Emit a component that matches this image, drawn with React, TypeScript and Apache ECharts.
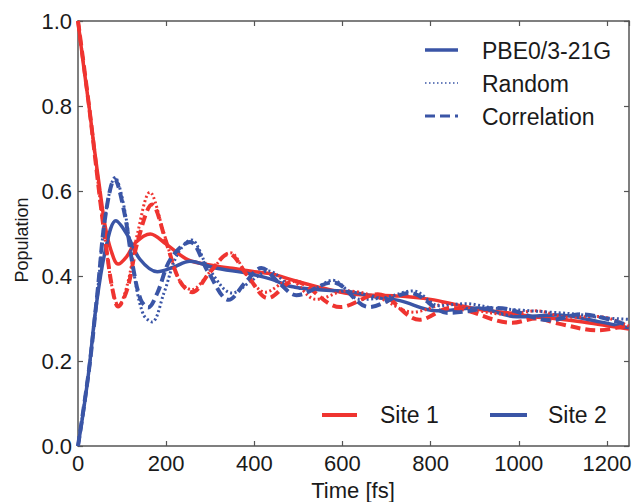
import React, { useEffect, useRef } from "react";
import * as echarts from "echarts";

// Time [fs] / population pairs
const site1Pbe: [number, number][] = [
  [0, 1.0], [12, 0.9], [25, 0.8], [37, 0.7], [50, 0.6], [62, 0.515], [75, 0.46], [91, 0.428],
  [110, 0.445], [130, 0.478], [164, 0.499], [200, 0.475], [250, 0.438], [306, 0.425], [350, 0.418],
  [400, 0.41], [440, 0.405], [488, 0.39], [542, 0.375], [617, 0.358], [669, 0.355], [730, 0.353],
  [800, 0.345], [860, 0.332], [919, 0.32], [980, 0.313], [1032, 0.304], [1080, 0.3], [1146, 0.292],
  [1200, 0.283], [1250, 0.275],
];
const site2Pbe: [number, number][] = [
  [0, 0], [12, 0.08], [25, 0.18], [40, 0.32], [62, 0.46], [86, 0.53], [110, 0.5], [140, 0.44],
  [180, 0.41], [215, 0.42], [254, 0.435], [306, 0.42], [390, 0.405], [440, 0.392], [481, 0.376],
  [540, 0.368], [617, 0.363], [678, 0.35], [730, 0.342], [814, 0.318], [905, 0.325], [995, 0.304],
  [1086, 0.308], [1184, 0.292], [1250, 0.278],
];
const site1Random: [number, number][] = [
  [0, 1.0], [25, 0.8], [50, 0.58], [65, 0.46], [78, 0.37], [92, 0.33], [112, 0.38], [135, 0.5],
  [163, 0.597], [195, 0.5], [230, 0.39], [258, 0.368], [300, 0.41], [345, 0.455], [385, 0.4],
  [425, 0.362], [480, 0.39], [540, 0.345], [610, 0.365], [680, 0.35], [760, 0.315], [840, 0.335],
  [900, 0.32], [970, 0.31], [1040, 0.318], [1110, 0.303], [1180, 0.305], [1250, 0.282],
];
const site2Random: [number, number][] = [
  [0, 0], [25, 0.18], [45, 0.37], [62, 0.54], [84, 0.632], [105, 0.56], [128, 0.4], [148, 0.31],
  [168, 0.292], [195, 0.36], [225, 0.45], [257, 0.485], [295, 0.42], [350, 0.36], [395, 0.39],
  [432, 0.412], [485, 0.375], [530, 0.37], [578, 0.39], [640, 0.345], [700, 0.35], [760, 0.365],
  [820, 0.33], [880, 0.335], [940, 0.325], [1000, 0.32], [1070, 0.315], [1130, 0.31],
  [1190, 0.302], [1250, 0.298],
];
const site1Corr: [number, number][] = [
  [0, 1.0], [25, 0.8], [50, 0.58], [65, 0.46], [78, 0.37], [91, 0.328], [112, 0.37], [135, 0.48],
  [168, 0.568], [200, 0.48], [230, 0.39], [259, 0.362], [300, 0.41], [342, 0.452], [385, 0.4],
  [431, 0.348], [490, 0.388], [595, 0.327], [680, 0.357], [775, 0.297], [845, 0.325], [985, 0.29],
  [1040, 0.3], [1090, 0.288], [1180, 0.272], [1250, 0.285],
];
const site2Corr: [number, number][] = [
  [0, 0], [25, 0.18], [45, 0.37], [62, 0.54], [83, 0.628], [105, 0.55], [125, 0.42], [142, 0.345],
  [159, 0.326], [180, 0.36], [210, 0.44], [254, 0.48], [295, 0.41], [342, 0.344], [380, 0.385],
  [416, 0.419], [455, 0.385], [495, 0.355], [578, 0.385], [660, 0.327], [753, 0.36], [840, 0.313],
  [950, 0.325], [1071, 0.296], [1140, 0.31], [1250, 0.283],
];

const methodLabels = ["PBE0/3-21G", "Random", "Correlation"];
const siteLabels = ["Site 1", "Site 2"];

const RED = "#ef3430";
const BLUE = "#3a55a6";
const AXIS = "#555555";
const FONT = "Liberation Sans, Arial, sans-serif";
const TEXT = "#1a1a1a";

const SOLID = { width: 3.5, type: "solid" as any };
const DOTTED = { width: 3, type: [2, 2.5] as any };
const DASHED = { width: 4, type: [10, 5] as any };

export default function App() {
  const ref = useRef<HTMLDivElement>(null);
  useEffect(() => {
    if (!ref.current) return;
    const chart = echarts.init(ref.current, undefined, { renderer: "svg" });
    const mkSeries = (name: string, data: [number, number][], color: string, style: any) => ({
      name,
      type: "line",
      data,
      showSymbol: false,
      smooth: 0.35,
      lineStyle: { color, ...style, cap: "butt" },
      itemStyle: { color },
      xAxisIndex: 0,
      yAxisIndex: 0,
      silent: true,
    });
    const axisCommon = {
      axisLine: { show: true, onZero: false, lineStyle: { color: AXIS, width: 1.5 } },
      axisTick: { show: true, inside: true, length: 5, lineStyle: { color: AXIS, width: 1.2 } },
      splitLine: { show: false },
    };
    const legendLine = (x1: number, x2: number, y: number, color: string, style: any) => ({
      type: "line",
      shape: { x1, y1: y, x2, y2: y },
      style: { stroke: color, lineWidth: style.width, lineDash: Array.isArray(style.type) ? style.type : null },
    });
    const legendText = (x: number, y: number, text: string) => ({
      type: "text",
      x,
      y,
      style: { text, fill: TEXT, font: `23px ${FONT}`, textVerticalAlign: "middle", verticalAlign: "middle" },
    });
    chart.setOption({
      animation: false,
      backgroundColor: "#ffffff",
      grid: { left: 78, top: 21, width: 551, height: 425, containLabel: false },
      xAxis: [
        {
          type: "value",
          min: 0,
          max: 1250,
          interval: 200,
          position: "bottom",
          ...axisCommon,
          axisLabel: { show: true, fontSize: 22, fontFamily: FONT, color: TEXT, margin: 6, showMaxLabel: false,
            formatter: (v: number) => (v % 200 === 0 ? String(v) : "") },
        },
        {
          type: "value",
          min: 0,
          max: 1250,
          interval: 200,
          position: "top",
          ...axisCommon,
          axisLabel: { show: false },
        },
      ],
      yAxis: [
        {
          type: "value",
          min: 0,
          max: 1,
          interval: 0.2,
          position: "left",
          ...axisCommon,
          axisLabel: { show: true, fontSize: 22, fontFamily: FONT, color: TEXT, margin: 6,
            formatter: (v: number) => v.toFixed(1) },
        },
        {
          type: "value",
          min: 0,
          max: 1,
          interval: 0.2,
          position: "right",
          ...axisCommon,
          axisLabel: { show: false },
        },
      ],
      series: [
        mkSeries("Site 1 PBE0", site1Pbe, RED, SOLID),
        mkSeries("Site 2 PBE0", site2Pbe, BLUE, SOLID),
        mkSeries("Site 1 Random", site1Random, RED, DOTTED),
        mkSeries("Site 2 Random", site2Random, BLUE, DOTTED),
        mkSeries("Site 1 Correlation", site1Corr, RED, DASHED),
        mkSeries("Site 2 Correlation", site2Corr, BLUE, DASHED),
      ],
      graphic: [
        legendLine(425, 458, 50, BLUE, { width: 3.5, type: "solid" }),
        legendText(482, 51, methodLabels[0]),
        legendLine(425, 458, 83, BLUE, { width: 1.5, type: [1.5, 2.5] }),
        legendText(482, 84, methodLabels[1]),
        legendLine(425, 458, 116, BLUE, { width: 3, type: [10, 5] }),
        legendText(482, 117, methodLabels[2]),
        legendLine(322, 357, 415, RED, { width: 4, type: "solid" }),
        legendText(380, 415, siteLabels[0]),
        legendLine(490, 527, 415, BLUE, { width: 4, type: "solid" }),
        legendText(548, 415, siteLabels[1]),
        {
          type: "text",
          x: 22,
          y: 240,
          rotation: Math.PI / 2,
          style: { text: "Population", fill: TEXT, font: `18px ${FONT}`, align: "center", verticalAlign: "middle",
            textAlign: "center", textVerticalAlign: "middle" },
        },
        {
          type: "text",
          x: 353,
          y: 490,
          style: { text: "Time [fs]", fill: TEXT, font: `22px ${FONT}`, align: "center", verticalAlign: "middle",
            textAlign: "center", textVerticalAlign: "middle" },
        },
      ],
    });
    return () => chart.dispose();
  }, []);
  return (
    <div
      ref={ref}
      style={{ position: "absolute", left: 0, top: 0, width: 636, height: 502, background: "#fff" }}
    />
  );
}
